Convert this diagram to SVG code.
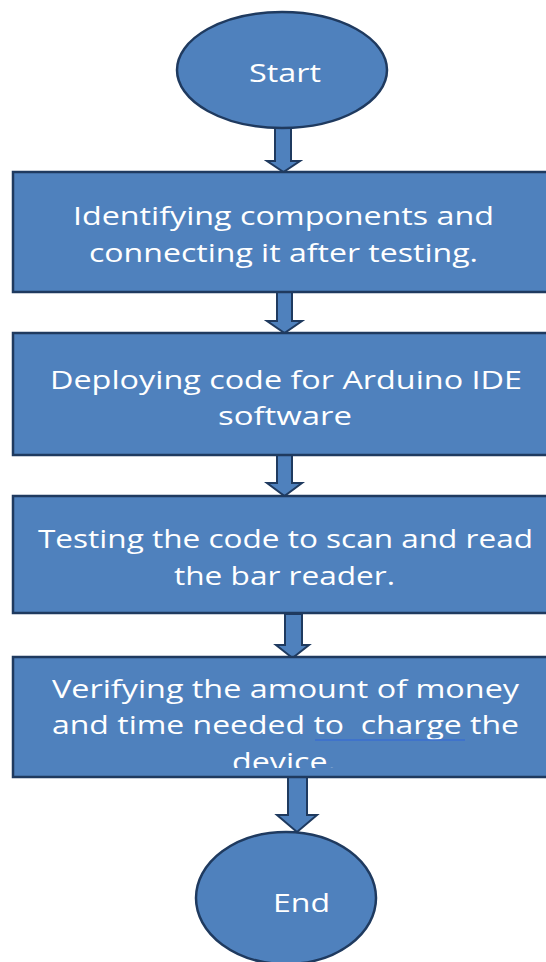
<svg xmlns="http://www.w3.org/2000/svg" width="546" height="962" viewBox="0 0 546 962">
<style>
.shape{fill:#4F81BD;stroke:#1F3A5F;stroke-width:2.5}
.arrow{fill:#4F81BD;stroke:#1F3A5F;stroke-width:2;stroke-linejoin:miter}
.t{font-family:"Open Sans","Liberation Sans",sans-serif;font-size:25px;fill:#FFFFFF;text-anchor:middle}
</style>
<defs>
<clipPath id="clip4"><rect x="13" y="657" width="545" height="111"/></clipPath>
</defs>
<rect width="546" height="962" fill="#FFFFFF"/>
<g id="connectors">
<polygon class="arrow" points="275,128 291,128 291,161 300,161 283.5,172 267,161 275,161"/>
<polygon class="arrow" points="277,292 292,292 292,321 302,321 284.5,333 267,321 277,321"/>
<polygon class="arrow" points="277,455 292,455 292,483 302,483 284.5,496 267,483 277,483"/>
<polygon class="arrow" points="285,614 302,614 302,645 309,645 292.5,658 276,645 285,645"/>
<polygon class="arrow" points="288,777 307,777 307,815 317,815 297,832 277,815 288,815"/>
</g>
<g id="start">
<ellipse class="shape" cx="282" cy="70" rx="105" ry="58"/>
<text class="t" x="285" y="82" textLength="72" lengthAdjust="spacingAndGlyphs">Start</text>
</g>
<g id="step1">
<rect class="shape" x="13" y="172" width="545" height="120"/>
<text class="t" x="283.5" y="225" textLength="421" lengthAdjust="spacingAndGlyphs">Identifying components and</text>
<text class="t" x="283.5" y="262" textLength="389" lengthAdjust="spacingAndGlyphs">connecting it after testing.</text>
</g>
<g id="step2">
<rect class="shape" x="13" y="333" width="545" height="122"/>
<text class="t" x="286" y="389" textLength="472" lengthAdjust="spacingAndGlyphs">Deploying code for Arduino IDE</text>
<text class="t" x="285" y="425" textLength="134" lengthAdjust="spacingAndGlyphs">software</text>
</g>
<g id="step3">
<rect class="shape" x="13" y="496" width="545" height="117"/>
<text class="t" x="285.5" y="548" textLength="495" lengthAdjust="spacingAndGlyphs">Testing the code to scan and read</text>
<text class="t" x="284.5" y="585" textLength="221" lengthAdjust="spacingAndGlyphs">the bar reader.</text>
</g>
<g id="step4">
<rect class="shape" x="13" y="657" width="545" height="120"/>
<text class="t" x="285.5" y="698" textLength="467" lengthAdjust="spacingAndGlyphs">Verifying the amount of money</text>
<text class="t" x="285.5" y="734" textLength="467" lengthAdjust="spacingAndGlyphs" xml:space="preserve">and time needed to  charge the</text>
<line x1="315" y1="740" x2="465" y2="740" stroke="#3A6FD0" stroke-width="1.5"/>
<text class="t" x="284" y="771" textLength="104" lengthAdjust="spacingAndGlyphs" clip-path="url(#clip4)">device.</text>
</g>
<g id="end">
<ellipse class="shape" cx="286" cy="898" rx="90" ry="66"/>
<text class="t" x="301.5" y="912" textLength="57" lengthAdjust="spacingAndGlyphs">End</text>
</g>
</svg>
